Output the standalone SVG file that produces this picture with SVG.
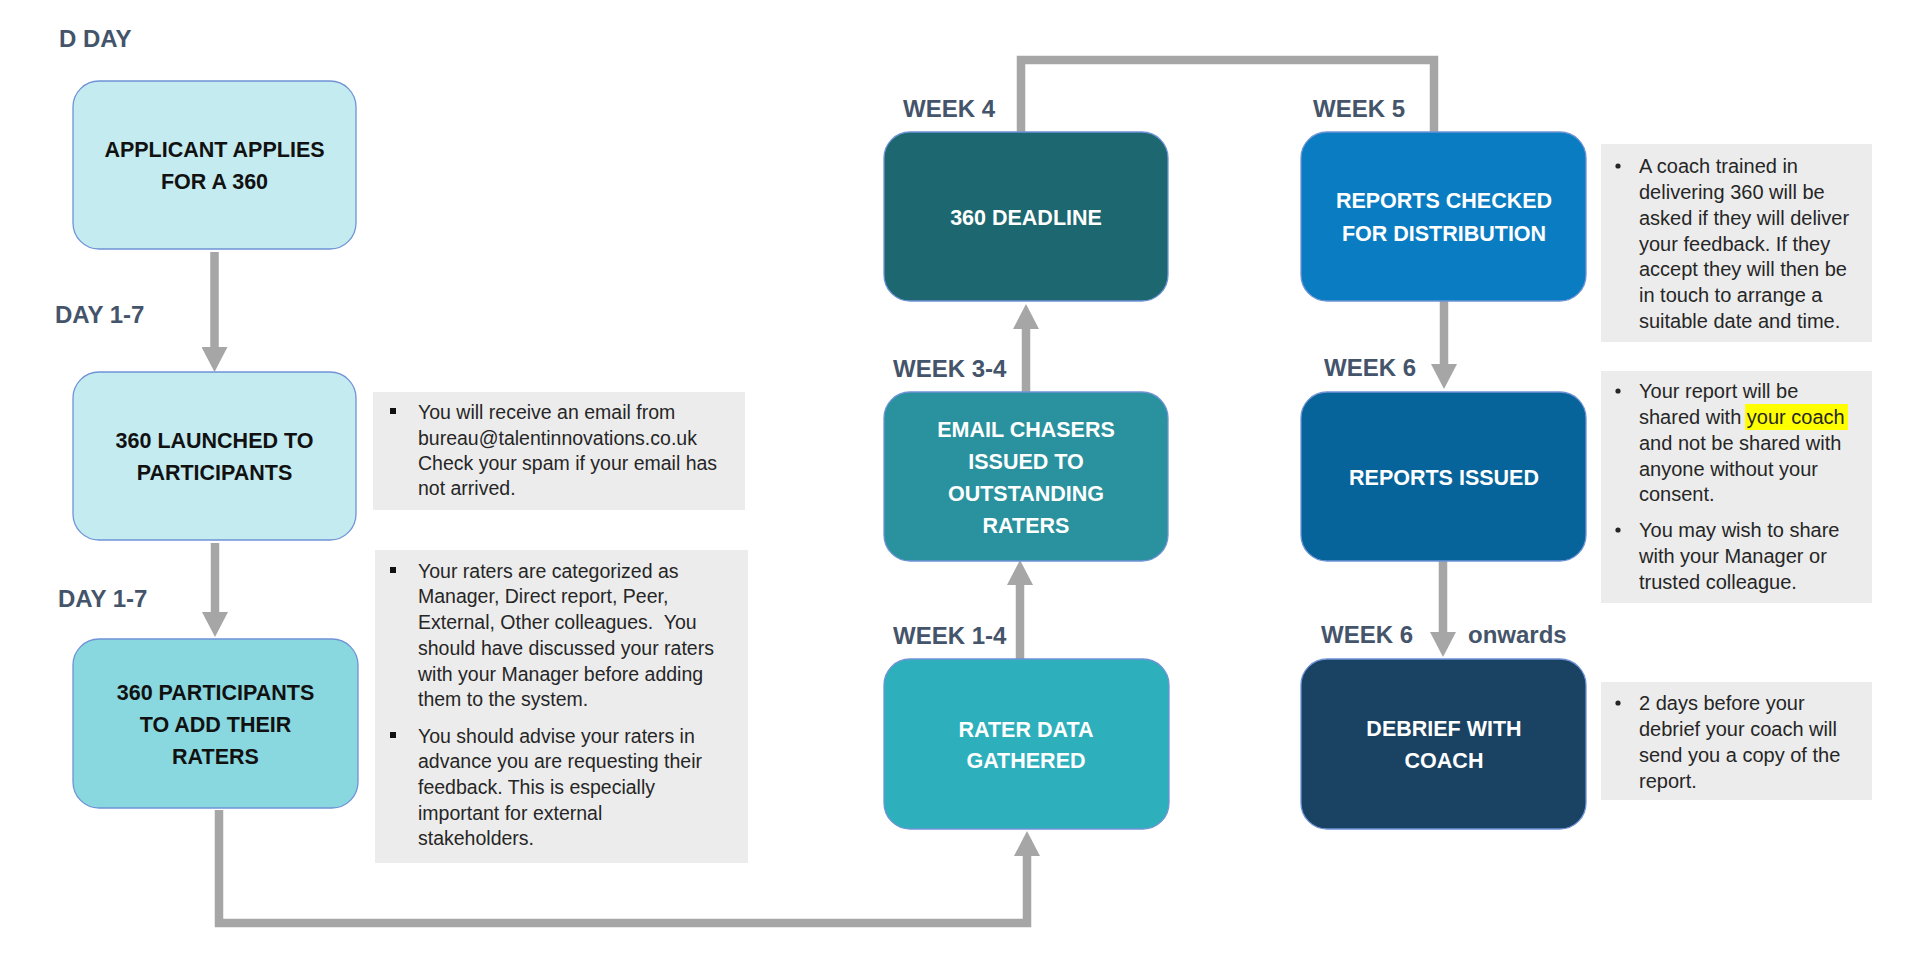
<svg xmlns="http://www.w3.org/2000/svg" width="1920" height="980" viewBox="0 0 1920 980">
<style>
.lbl{font-family:"Liberation Sans",Arial,sans-serif;font-weight:bold;font-size:24px;fill:#44546a}
.nt{font-family:"Liberation Sans",Arial,sans-serif;font-weight:bold;font-size:21.5px;text-anchor:middle}
.dk{fill:#111111}
.wt{fill:#ffffff}
.box{stroke:#6f93d6;stroke-width:1.3}
.info{fill:#ececec}
.it{font-family:"Liberation Sans",Arial,sans-serif;font-size:19.5px;fill:#262626}
.it2{font-family:"Liberation Sans",Arial,sans-serif;font-size:20px;fill:#262626}
.conn{stroke:#a6a6a6;stroke-width:8.5;fill:none}
.bsq{fill:#111111}
.bdot{fill:#262626}
</style>
<defs>
<marker id="ah" markerUnits="userSpaceOnUse" viewBox="0 0 25 26" markerWidth="25" markerHeight="26" refX="1" refY="13" orient="auto">
<path d="M0,0 L25,13 L0,26 z" fill="#a6a6a6"/>
</marker>
</defs>
<rect width="1920" height="980" fill="#ffffff"/>

<g id="connectors">
<line class="conn" x1="214.5" y1="252" x2="214.5" y2="348" marker-end="url(#ah)"/>
<line class="conn" x1="215" y1="543" x2="215" y2="613" marker-end="url(#ah)"/>
<path class="conn" d="M219,810 V923 H1027 V855" marker-end="url(#ah)"/>
<line class="conn" x1="1020" y1="659" x2="1020" y2="584" marker-end="url(#ah)"/>
<line class="conn" x1="1026" y1="392" x2="1026" y2="328" marker-end="url(#ah)"/>
<path class="conn" d="M1021,132 V60 H1434 V132"/>
<line class="conn" x1="1444" y1="301" x2="1444" y2="365" marker-end="url(#ah)"/>
<line class="conn" x1="1443" y1="561" x2="1443" y2="633" marker-end="url(#ah)"/>
</g>

<g id="labels">
<text class="lbl" x="59" y="47">D DAY</text>
<text class="lbl" x="55" y="323">DAY 1-7</text>
<text class="lbl" x="58" y="607">DAY 1-7</text>
<text class="lbl" x="903" y="117">WEEK 4</text>
<text class="lbl" x="893" y="377">WEEK 3-4</text>
<text class="lbl" x="893" y="644">WEEK 1-4</text>
<text class="lbl" x="1313" y="117">WEEK 5</text>
<text class="lbl" x="1324" y="376">WEEK 6</text>
<text class="lbl" x="1321" y="643">WEEK 6</text>
<text class="lbl" x="1468" y="643">onwards</text>
</g>

<g id="n1">
<rect class="box" x="73" y="81" width="283" height="168" rx="26" fill="#c4ebf0"/>
<text class="nt dk" x="214.5" y="157">APPLICANT APPLIES</text>
<text class="nt dk" x="214.5" y="189">FOR A 360</text>
</g>
<g id="n2">
<rect class="box" x="73" y="372" width="283" height="168" rx="26" fill="#c4ebf0"/>
<text class="nt dk" x="214.5" y="448">360 LAUNCHED TO</text>
<text class="nt dk" x="214.5" y="480">PARTICIPANTS</text>
</g>
<g id="n3">
<rect class="box" x="73" y="639" width="285" height="169" rx="26" fill="#89d8df"/>
<text class="nt dk" x="215.5" y="700">360 PARTICIPANTS</text>
<text class="nt dk" x="215.5" y="732">TO ADD THEIR</text>
<text class="nt dk" x="215.5" y="764">RATERS</text>
</g>

<g id="n4">
<rect class="box" x="884" y="132" width="284" height="169" rx="26" fill="#1d6870"/>
<text class="nt wt" x="1026" y="225">360 DEADLINE</text>
</g>
<g id="n5">
<rect class="box" x="884" y="392" width="284" height="169" rx="26" fill="#29929e"/>
<text class="nt wt" x="1026" y="437">EMAIL CHASERS</text>
<text class="nt wt" x="1026" y="469">ISSUED TO</text>
<text class="nt wt" x="1026" y="501">OUTSTANDING</text>
<text class="nt wt" x="1026" y="533">RATERS</text>
</g>
<g id="n6">
<rect class="box" x="884" y="659" width="285" height="170" rx="26" fill="#2eafbc"/>
<text class="nt wt" x="1026" y="737">RATER DATA</text>
<text class="nt wt" x="1026" y="768">GATHERED</text>
</g>

<g id="n7">
<rect class="box" x="1301" y="132" width="285" height="169" rx="26" fill="#0a7dc2"/>
<text class="nt wt" x="1444" y="208">REPORTS CHECKED</text>
<text class="nt wt" x="1444" y="241">FOR DISTRIBUTION</text>
</g>
<g id="n8">
<rect class="box" x="1301" y="392" width="285" height="169" rx="26" fill="#06649a"/>
<text class="nt wt" x="1444" y="485">REPORTS ISSUED</text>
</g>
<g id="n9">
<rect class="box" x="1301" y="659" width="285" height="170" rx="26" fill="#1a4262"/>
<text class="nt wt" x="1444" y="736">DEBRIEF WITH</text>
<text class="nt wt" x="1444" y="768">COACH</text>
</g>

<g id="info1">
<rect class="info" x="373" y="392" width="372" height="118"/>
<rect class="bsq" x="390" y="408" width="6" height="6"/>
<text class="it" x="418" y="419">You will receive an email from</text>
<text class="it" x="418" y="445">bureau@talentinnovations.co.uk</text>
<text class="it" x="418" y="470">Check your spam if your email has</text>
<text class="it" x="418" y="495">not arrived.</text>
</g>

<g id="info2">
<rect class="info" x="375" y="550" width="373" height="313"/>
<rect class="bsq" x="390" y="567" width="6" height="6"/>
<text class="it" x="418" y="578">Your raters are categorized as</text>
<text class="it" x="418" y="603">Manager, Direct report, Peer,</text>
<text class="it" x="418" y="629">External, Other colleagues.&#160; You</text>
<text class="it" x="418" y="655">should have discussed your raters</text>
<text class="it" x="418" y="681">with your Manager before adding</text>
<text class="it" x="418" y="706">them to the system.</text>
<rect class="bsq" x="390" y="732" width="6" height="6"/>
<text class="it" x="418" y="743">You should advise your raters in</text>
<text class="it" x="418" y="768">advance you are requesting their</text>
<text class="it" x="418" y="794">feedback. This is especially</text>
<text class="it" x="418" y="820">important for external</text>
<text class="it" x="418" y="845">stakeholders.</text>
</g>

<g id="info3">
<rect class="info" x="1601" y="144" width="271" height="198"/>
<circle class="bdot" cx="1618" cy="166" r="2.6"/>
<text class="it2" x="1639" y="173">A coach trained in</text>
<text class="it2" x="1639" y="199">delivering 360 will be</text>
<text class="it2" x="1639" y="225">asked if they will deliver</text>
<text class="it2" x="1639" y="251">your feedback. If they</text>
<text class="it2" x="1639" y="276">accept they will then be</text>
<text class="it2" x="1639" y="302">in touch to arrange a</text>
<text class="it2" x="1639" y="328">suitable date and time.</text>
</g>

<g id="info4">
<rect class="info" x="1601" y="371" width="271" height="232"/>
<rect x="1745" y="404" width="103" height="26" fill="#ffff00"/>
<circle class="bdot" cx="1618" cy="391" r="2.6"/>
<text class="it2" x="1639" y="398">Your report will be</text>
<text class="it2" x="1639" y="424">shared with <tspan>your coach</tspan></text>
<text class="it2" x="1639" y="450">and not be shared with</text>
<text class="it2" x="1639" y="476">anyone without your</text>
<text class="it2" x="1639" y="501">consent.</text>
<circle class="bdot" cx="1618" cy="530" r="2.6"/>
<text class="it2" x="1639" y="537">You may wish to share</text>
<text class="it2" x="1639" y="563">with your Manager or</text>
<text class="it2" x="1639" y="589">trusted colleague.</text>
</g>

<g id="info5">
<rect class="info" x="1601" y="682" width="271" height="118"/>
<circle class="bdot" cx="1618" cy="703" r="2.6"/>
<text class="it2" x="1639" y="710">2 days before your</text>
<text class="it2" x="1639" y="736">debrief your coach will</text>
<text class="it2" x="1639" y="762">send you a copy of the</text>
<text class="it2" x="1639" y="788">report.</text>
</g>
</svg>
